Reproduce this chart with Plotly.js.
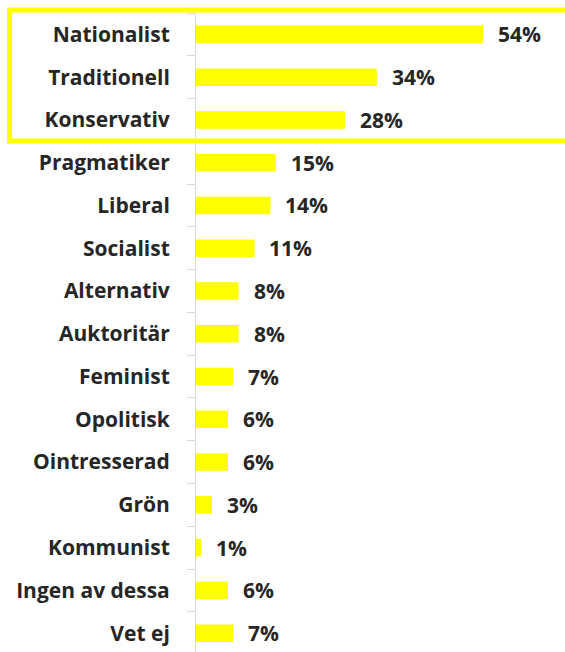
<!DOCTYPE html>
<html>
<head>
<meta charset="utf-8">
<script src="https://cdn.plot.ly/plotly-3.0.1.min.js"></script>
<style>html,body{margin:0;padding:0;background:#fff;}#chart{width:565px;height:652px;}</style>
</head>
<body>
<div id="chart"></div>
<script>
const categories = ["Nationalist","Traditionell","Konservativ","Pragmatiker","Liberal","Socialist","Alternativ","Auktoritär","Feminist","Opolitisk","Ointresserad","Grön","Kommunist","Ingen av dessa","Vet ej"];
const values = [54,34,28,15,14,11,8,8,7,6,6,3,1,6,7];
const valueLabels = values.map(v => v + "%");

const fontFamily = "'Open Sans', sans-serif";
const textColor = "#262626";

const trace = {
  type: "bar",
  orientation: "h",
  x: values,
  y: categories,
  marker: {color: "#FFFF00"},
  hoverinfo: "none"
};

const annotations = values.map((v, i) => ({
  x: v, y: categories[i], xref: "x", yref: "y",
  text: "<b>" + valueLabels[i] + "</b>",
  showarrow: false, xanchor: "left", yanchor: "middle",
  xshift: 13,
  font: {family: fontFamily, size: 21, color: textColor}
}));

const layout = {
  width: 565, height: 652,
  margin: {l: 196, r: 0, t: 13, b: 0},
  paper_bgcolor: "#fff", plot_bgcolor: "#fff",
  showlegend: false,
  bargap: 0.59,
  xaxis: {range: [0, 69.4], showgrid: false, zeroline: false, showticklabels: false, showline: false, ticks: ""},
  yaxis: {
    type: "category",
    categoryorder: "array", categoryarray: categories,
    range: [14.44, -0.5],
    showgrid: false, zeroline: false,
    showline: true, linecolor: "#d9d9d9", linewidth: 1,
    ticks: "outside", tickson: "boundaries", ticklen: 8, tickcolor: "#d9d9d9", tickwidth: 1,
    ticklabelstandoff: 21,
    tickfont: {family: fontFamily, size: 21, color: textColor, weight: "bold"}
  },
  annotations: annotations,
  shapes: [{
    type: "rect", xref: "paper", yref: "paper",
    x0: -0.505, x1: 1.02, y0: 0.7997, y1: 1.0047,
    line: {color: "#FFFF00", width: 5}, fillcolor: "rgba(0,0,0,0)"
  }]
};

Plotly.newPlot("chart", [trace], layout, {displayModeBar: false, staticPlot: true});
</script>
</body>
</html>
